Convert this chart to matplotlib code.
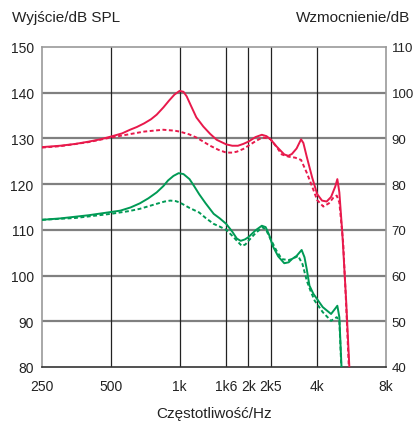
import matplotlib
matplotlib.use("Agg")
import matplotlib.pyplot as plt

plt.rcParams['font.family'] = ['Liberation Sans', 'DejaVu Sans']

# ---- data ----
tick_freqs = [250, 500, 1000, 1600, 2000, 2500, 4000, 8000]
tick_labels = ['250', '500', '1k', '1k6', '2k', '2k5', '4k', '8k']
vgrid_freqs = [500, 1000, 1600, 2000, 2500, 4000]
left_ticks = [80, 90, 100, 110, 120, 130, 140, 150]
right_ticks = [40, 50, 60, 70, 80, 90, 100, 110]

red_solid_f = [250, 300, 350, 400, 450, 500, 560, 607, 650, 700, 750, 794, 850, 900, 950,
               1000, 1040, 1074, 1120, 1184, 1270, 1360, 1453, 1600, 1700, 1800, 1900, 2000,
               2150, 2290, 2400, 2500, 2650, 2870, 2990, 3100, 3250, 3400, 3480, 3600, 3800,
               4000, 4200, 4400, 4600, 4800, 4900, 5000, 5150, 5350, 5530]
red_solid_v = [128.1, 128.4, 128.8, 129.3, 129.8, 130.4, 131.1, 131.9, 132.5, 133.3, 134.2,
               135.2, 136.8, 138.3, 139.6, 140.4, 140.2, 139.2, 137.2, 134.6, 132.6, 131.0,
               129.7, 128.7, 128.4, 128.4, 128.8, 129.3, 130.3, 130.8, 130.5, 129.8, 128.3,
               126.5, 126.2, 126.6, 127.8, 129.8, 129.0, 126.0, 121.5, 117.8, 116.4, 116.2,
               117.2, 119.5, 121.1, 118.2, 109.4, 94.9, 80.0]

red_dash_f = [250, 300, 400, 500, 600, 700, 848, 950, 1000, 1100, 1184, 1270, 1360, 1480,
              1600, 1700, 1780, 1900, 2000, 2150, 2300, 2450, 2500, 2650, 2800, 3000, 3200,
              3400, 3600, 3800, 4000, 4254, 4500, 4700, 4870, 5000, 5200, 5350, 5500]
red_dash_v = [128.0, 128.3, 129.2, 130.2, 130.9, 131.5, 131.9, 131.7, 131.5, 130.9, 130.2,
              129.3, 128.4, 127.5, 126.9, 126.9, 127.1, 127.7, 128.4, 129.4, 130.2, 130.0,
              129.8, 128.2, 126.5, 126.0, 125.8, 125.3, 122.5, 119.5, 116.5, 115.1, 115.8,
              117.0, 117.5, 116.0, 107.0, 94.0, 80.0]

green_solid_f = [250, 300, 400, 500, 550, 610, 670, 730, 794, 850, 890, 940, 990, 1040, 1105,
                 1160, 1218, 1300, 1410, 1500, 1600, 1700, 1780, 1850, 1930, 2000, 2150, 2290,
                 2380, 2460, 2560, 2700, 2870, 3000, 3100, 3250, 3420, 3520, 3600, 3700, 3850,
                 3990, 4230, 4600, 4800, 4900, 5000, 5110]
green_solid_v = [112.2, 112.5, 113.2, 113.9, 114.2, 114.9, 115.8, 116.9, 118.2, 119.6, 120.8,
                 121.8, 122.4, 122.2, 121.1, 119.5, 117.8, 115.8, 113.5, 112.5, 111.3, 109.6,
                 108.1, 107.6, 107.9, 108.4, 109.9, 110.9, 110.6, 109.0, 106.4, 104.2, 102.7,
                 102.9, 103.6, 104.3, 105.6, 104.0, 101.4, 97.8, 96.0, 94.9, 93.1, 91.6, 92.8,
                 93.4, 90.9, 80.0]

green_dash_f = [250, 350, 500, 600, 670, 794, 860, 910, 960, 1000, 1105, 1218, 1300, 1410,
                1500, 1600, 1700, 1870, 1940, 2000, 2150, 2310, 2400, 2500, 2650, 2800, 3000,
                3100, 3300, 3450, 3600, 3750, 3900, 4230, 4600, 4870, 5000, 5100]
green_dash_v = [112.2, 112.6, 113.5, 114.1, 114.6, 115.7, 116.2, 116.4, 116.3, 116.0, 114.8,
                113.8, 112.6, 111.3, 110.7, 110.0, 108.7, 106.5, 106.8, 107.6, 109.3, 110.6,
                109.8, 108.0, 105.5, 103.6, 103.4, 103.6, 104.3, 102.5, 98.9, 96.5, 94.5,
                92.0, 90.1, 90.9, 90.1, 80.0]

RED = '#E8194B'
GREEN = '#009A55'
TXT = '#222222'

fig = plt.figure(figsize=(4.14, 4.27), dpi=100)
ax = fig.add_axes([42/414, 1-368/427, 344/414, 320/427])
ax.set_xscale('log')
ax.set_xlim(250, 8000)
ax.set_ylim(80, 150)

for y in [90, 100, 110, 120, 130, 140]:
    ax.axhline(y, color='#808080', lw=1.6, zorder=1)
for f in vgrid_freqs:
    ax.axvline(f, color='#222222', lw=0.9, zorder=1)

ax.plot(red_solid_f, red_solid_v, color=RED, lw=1.4, zorder=3, solid_joinstyle='round')
ax.plot(red_dash_f, red_dash_v, color=RED, lw=1.4, ls=(0, (2, 1.3)), zorder=3)
ax.plot(green_solid_f, green_solid_v, color=GREEN, lw=1.4, zorder=3, solid_joinstyle='round')
ax.plot(green_dash_f, green_dash_v, color=GREEN, lw=1.4, ls=(0, (2, 1.3)), zorder=3)

ax.set_xticks(tick_freqs)
ax.set_xticklabels(tick_labels)
ax.xaxis.set_minor_locator(matplotlib.ticker.NullLocator())
ax.set_yticks(left_ticks)
ax.tick_params(axis='both', length=0, labelsize=10, colors=TXT)
ax.tick_params(axis='x', pad=9)
ax.tick_params(axis='y', pad=6)

for s in ['left', 'top', 'right']:
    ax.spines[s].set_color('#9a9a9a')
    ax.spines[s].set_linewidth(1.2)
ax.spines['bottom'].set_color('#333333')
ax.spines['bottom'].set_linewidth(1.2)

ax2 = ax.twinx()
ax2.set_ylim(40, 110)
ax2.set_yticks(right_ticks)
ax2.tick_params(axis='y', length=0, labelsize=9.5, colors=TXT, pad=4)
for s in ax2.spines.values():
    s.set_visible(False)

fig.text(12/414, 1-18/427, 'Wyjście/dB SPL', fontsize=11, color=TXT, va='center', ha='left')
fig.text(410/414, 1-18/427, 'Wzmocnienie/dB', fontsize=11, color=TXT, va='center', ha='right')
fig.text(214/414, 1-414/427, 'Częstotliwość/Hz', fontsize=11, color=TXT, va='center', ha='center')

fig.savefig('out.png', dpi=100)
